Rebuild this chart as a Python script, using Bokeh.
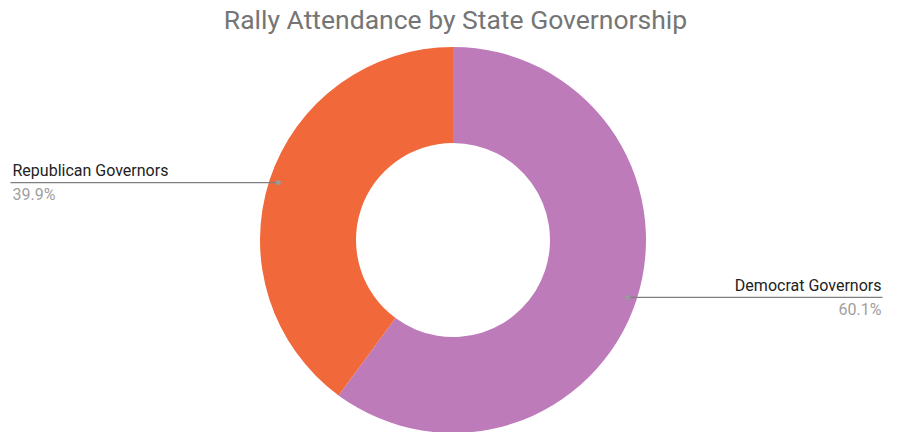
import numpy as np
from bokeh.plotting import figure
from bokeh.models import Range1d
from bokeh.core.properties import value
from bokeh.embed import file_html
from bokeh.resources import INLINE

title_text = "Rally Attendance by State Governorship"
labels = ["Democrat Governors", "Republican Governors"]
shares = [60.1, 39.9]
colors = ["#BE7BBA", "#F1683B"]

W, H = 883, 432
p = figure(width=W, height=H, output_backend="svg", toolbar_location=None,
           x_range=Range1d(0, W), y_range=Range1d(0, H), min_border=0)
p.axis.visible = False
p.grid.visible = False
p.outline_line_color = None
p.background_fill_color = "white"

def Y(ry):
    return H - ry

cx, cy = 452.5, Y(239.5)
r_out, r_in = 193, 97

fr = np.array(shares) / sum(shares)
cum = np.concatenate([[0], np.cumsum(fr)])
starts = np.pi / 2 - 2 * np.pi * cum[:-1]
ends = np.pi / 2 - 2 * np.pi * cum[1:]

p.annular_wedge(x=[cx] * len(shares), y=[cy] * len(shares),
                inner_radius=r_in, outer_radius=r_out,
                inner_radius_units="screen", outer_radius_units="screen",
                start_angle=list(starts), end_angle=list(ends), direction="clock",
                fill_color=colors, line_color=None)

font = value("Roboto")
r_lead = 184
for lab, s, a0, a1 in zip(labels, shares, starts, ends):
    mid = (a0 + a1) / 2
    dx = cx + r_lead * np.cos(mid)
    dy = cy + r_lead * np.sin(mid)
    if np.cos(mid) < 0:
        x_end, align, tx = 10, "left", 12
    else:
        x_end, align, tx = 882, "right", 881
    p.line([x_end, dx], [dy, dy], line_color="#7f7f7f", line_width=1.2)
    p.scatter([dx], [dy], size=5, fill_color="#9a9a9a", line_color=None)
    p.text([tx], [dy + 12], text=[lab], text_font=font, text_font_size="16px",
           text_color="#222222", text_align=align, text_baseline="alphabetic")
    p.text([tx], [dy - 12], text=[f"{s:.1f}%"], text_font=font, text_font_size="16px",
           text_color="#a0a0a0", text_align=align, text_baseline="alphabetic")

p.text([455], [Y(19)], text=[title_text], text_font=font, text_font_size="26.5px",
       text_color="#757575", text_align="center", text_baseline="alphabetic")

open("out.html", "w").write(file_html(p, INLINE))
